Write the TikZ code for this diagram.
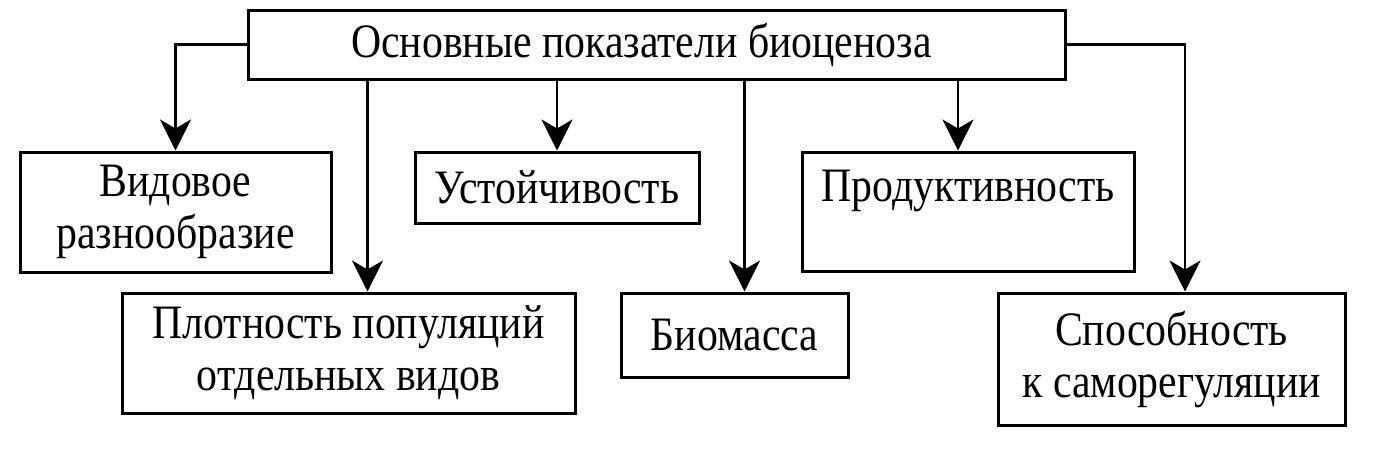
\documentclass[tikz,border=0pt]{standalone}
\usepackage{fontspec}
\setmainfont{Liberation Serif}[FakeStretch=0.87]
\usetikzlibrary{arrows.meta}
\tikzset{
    box/.style={draw, line width=3pt, inner sep=0pt, align=center,
        font=\fontsize{48}{52}\selectfont},
    link/.style={line width=2.6pt, -{Stealth[length=31pt, width=31pt, inset=9pt]}}
}
\def\Indicators{
    \node[box, minimum width=817pt, minimum height=69pt] (main) at (656.5,44.5) {Основные показатели биоценоза\hspace*{30pt}};
    \node[box, minimum width=311pt, minimum height=120pt] (species) at (175.5,212) {Видовое\\разнообразие};
    \node[box, minimum width=453pt, minimum height=120pt] (density) at (348.5,353) {Плотность популяций\\отдельных видов};
    \node[box, minimum width=284pt, minimum height=71pt] (stability) at (557,187.5) {Устойчивость};
    \node[box, minimum width=227pt, minimum height=84pt] (biomass) at (734.5,335) {Биомасса};
    \node[box, minimum width=332pt, minimum height=119pt] (productivity) at (968,211.5) {Продуктивность\\\mbox{}};
    \node[box, minimum width=347pt, minimum height=132pt] (selfreg) at (1171.5,359) {Способность\\к саморегуляции};
}

\begin{document}
\begin{tikzpicture}[x=1pt, y=-1pt]
    \useasboundingbox (0,0) rectangle (1393,456);
    \Indicators
    \draw[link] (main.west) -| (species.north);
    \draw[link] ([xshift=19pt]density.north |- main.south) -- ([xshift=19pt]density.north);
    \draw[link] (main.south -| stability.north) -- (stability.north);
    \draw[link] ([xshift=10pt]biomass.north |- main.south) -- ([xshift=10pt]biomass.north);
    \draw[link] ([xshift=-10pt]productivity.north |- main.south) -- ([xshift=-10pt]productivity.north);
    \draw[link] (main.east) -| ([xshift=13.5pt]selfreg.north);

    % \draw[link] (main.south) -- (biomass.north);
\end{tikzpicture}
\end{document}
